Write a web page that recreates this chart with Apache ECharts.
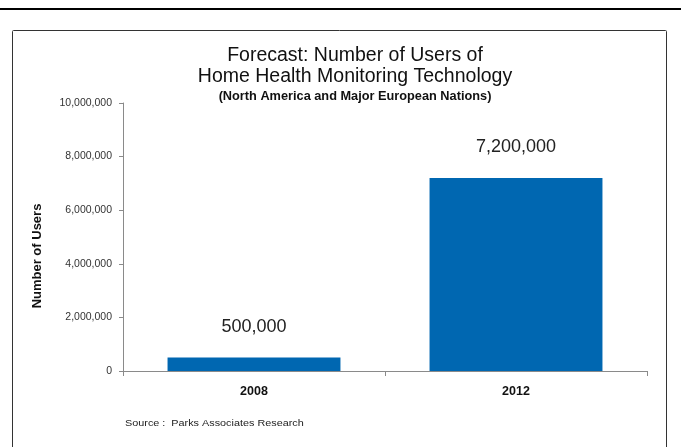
<!DOCTYPE html>
<html>
<head>
<meta charset="utf-8">
<script src="https://cdn.jsdelivr.net/npm/echarts@6/dist/echarts.min.js"></script>
<style>
  html, body { margin: 0; padding: 0; background: #fff; }
  #chart { width: 681px; height: 447px; }
</style>
</head>
<body>
<div id="chart"></div>
<script>
// Forecast of home health monitoring users
const years = ['2008', '2012'];
const users = [500000, 7200000];
const yTicks = [0, 2000000, 4000000, 6000000, 8000000, 10000000];

const FONT = '"Liberation Sans", Arial, sans-serif';
const fmt = v => v.toLocaleString('en-US');

const chart = echarts.init(document.getElementById('chart'), null, { renderer: 'canvas' });

chart.setOption({
  animation: false,
  backgroundColor: '#ffffff',
  title: {
    text: 'Forecast: Number of Users of\nHome Health Monitoring Technology',
    subtext: '(North America and Major European Nations)',
    left: 350,
    textAlign: 'center',
    top: 40,
    itemGap: 3,
    textStyle: { fontFamily: FONT, fontSize: 19.5, fontWeight: 'normal', color: '#111', lineHeight: 21 },
    subtextStyle: { fontFamily: FONT, fontSize: 12.75, fontWeight: 'bold', color: '#111' }
  },
  grid: { left: 123, right: 34, top: 103, bottom: 76 },
  xAxis: {
    type: 'category',
    data: years,
    axisLine: { lineStyle: { color: '#8a8a8a', width: 1 } },
    axisTick: { show: true, length: 5, lineStyle: { color: '#8a8a8a' } },
    axisLabel: { fontFamily: FONT, fontSize: 12.5, fontWeight: 'bold', color: '#111', margin: 14 }
  },
  yAxis: {
    type: 'value',
    min: yTicks[0],
    max: yTicks[yTicks.length - 1],
    interval: yTicks[1] - yTicks[0],
    axisLine: { show: true, lineStyle: { color: '#8a8a8a', width: 1 } },
    axisTick: { show: true, length: 4, lineStyle: { color: '#8a8a8a' } },
    splitLine: { show: false },
    axisLabel: { fontFamily: FONT, fontSize: 10.5, color: '#333', margin: 11, formatter: fmt }
  },
  series: [{
    type: 'bar',
    data: users,
    barWidth: '66%',
    itemStyle: { color: '#0067b1' },
    label: {
      show: true,
      position: 'top',
      distance: 22,
      fontFamily: FONT,
      fontSize: 18,
      color: '#222',
      formatter: p => fmt(p.value)
    }
  }],
  graphic: [
    // rule across the top of the page
    { type: 'line', shape: { x1: 0, y1: 9, x2: 681, y2: 9 }, style: { stroke: '#000', lineWidth: 2 } },
    // frame around the chart
    { type: 'rect', shape: { x: 12.5, y: 30.5, width: 654, height: 440, r: 1 }, style: { fill: null, stroke: '#333', lineWidth: 1 } },
    // y-axis title
    {
      type: 'text', x: 37, y: 256, rotation: Math.PI / 2,
      style: { text: 'Number of Users', font: 'bold 13px ' + FONT, fill: '#111', textAlign: 'center', textVerticalAlign: 'middle' }
    },
    // data source note
    {
      type: 'text', x: 125, y: 423, scaleX: 1.14,
      style: { text: 'Source :  Parks Associates Research', font: '9.5px ' + FONT, fill: '#222', textAlign: 'left', textVerticalAlign: 'middle' }
    }
  ]
});
</script>
</body>
</html>
